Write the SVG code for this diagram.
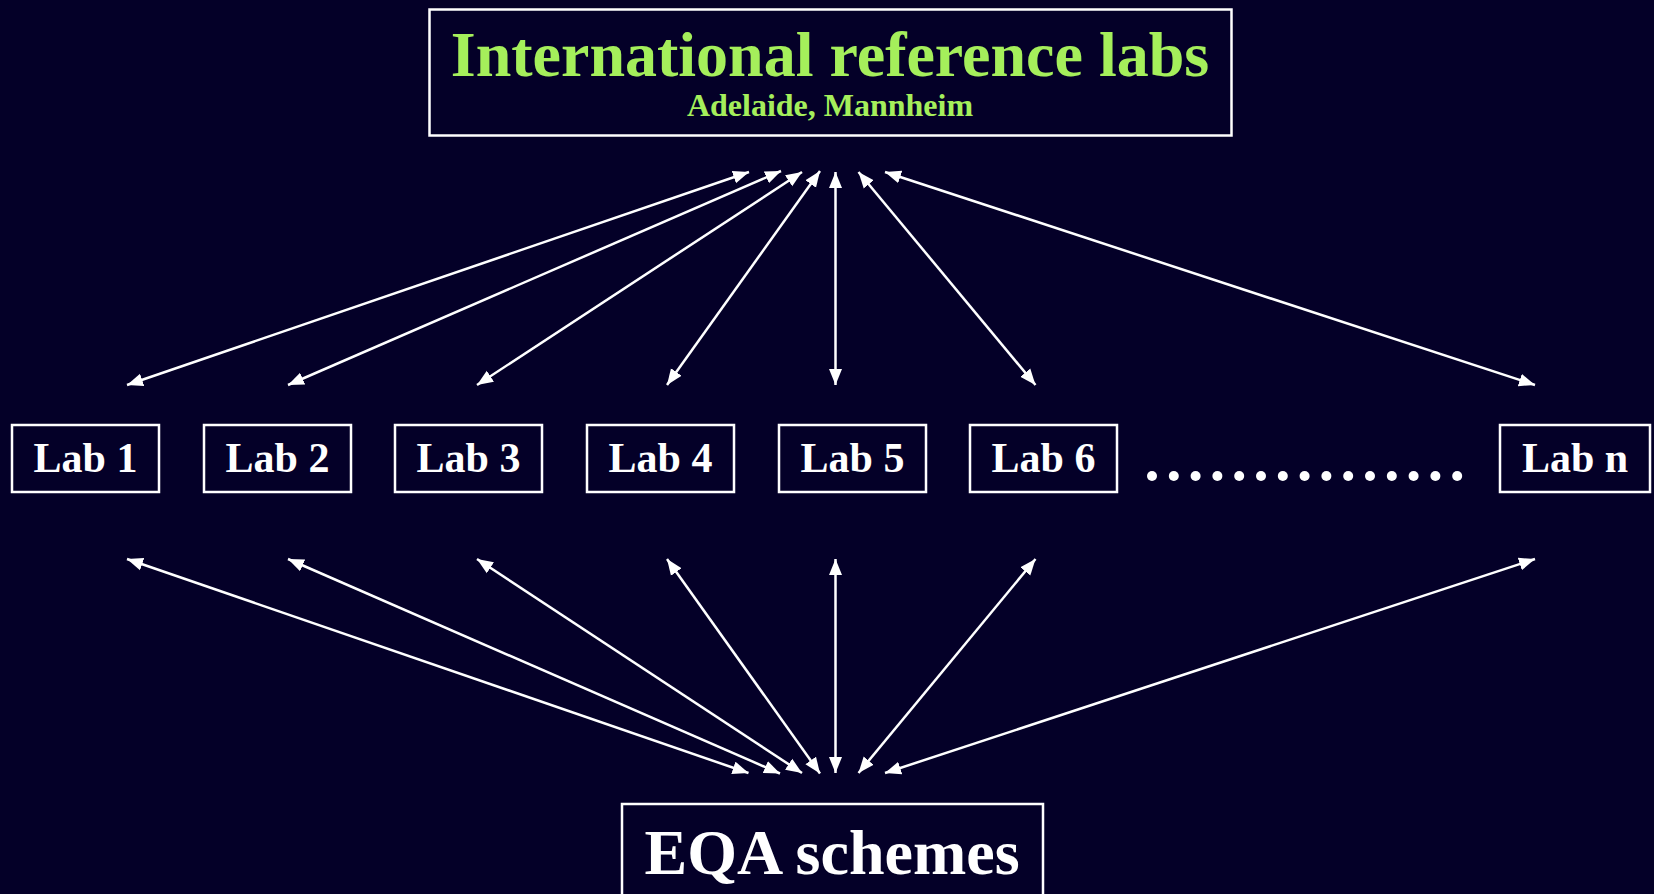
<svg xmlns="http://www.w3.org/2000/svg" width="1654" height="894" viewBox="0 0 1654 894">
<style>
.box{fill:none;stroke:#ffffff;stroke-width:2.5}
.t{font-family:"Liberation Serif","Times New Roman",serif;font-weight:bold;text-anchor:middle}
.lab{fill:#ffffff;font-size:42px}
.con{stroke:#ffffff;stroke-width:2.5;fill:none;marker-start:url(#ah);marker-end:url(#ah)}
</style>
<defs>
<marker id="ah" markerUnits="userSpaceOnUse" markerWidth="18" markerHeight="14" refX="16" refY="6.5" orient="auto-start-reverse" viewBox="0 0 18 13">
<path d="M0,0 L16,6.5 L0,13 z" fill="#ffffff"/>
</marker>
</defs>
<rect width="1654" height="894" fill="#040028"/>
<g id="ref">
<rect class="box" x="429.5" y="9.5" width="802" height="126"/>
<text class="t" x="830" y="76" font-size="64" fill="#a5ef5b">International reference labs</text>
<text class="t" x="830" y="116" font-size="32" fill="#a5ef5b">Adelaide, Mannheim</text>
</g>
<g id="lab1"><rect class="box" x="12" y="425" width="147" height="67"/><text class="t lab" x="85.5" y="472">Lab 1</text></g>
<g id="lab2"><rect class="box" x="204" y="425" width="147" height="67"/><text class="t lab" x="277.5" y="472">Lab 2</text></g>
<g id="lab3"><rect class="box" x="395" y="425" width="147" height="67"/><text class="t lab" x="468.5" y="472">Lab 3</text></g>
<g id="lab4"><rect class="box" x="587" y="425" width="147" height="67"/><text class="t lab" x="660.5" y="472">Lab 4</text></g>
<g id="lab5"><rect class="box" x="779" y="425" width="147" height="67"/><text class="t lab" x="852.5" y="472">Lab 5</text></g>
<g id="lab6"><rect class="box" x="970" y="425" width="147" height="67"/><text class="t lab" x="1043.5" y="472">Lab 6</text></g>
<g id="labn"><rect class="box" x="1500" y="425" width="150" height="67"/><text class="t lab" x="1575" y="472">Lab n</text></g>
<g id="dots" fill="#ffffff">
<circle cx="1152" cy="476" r="5"/><circle cx="1173.8" cy="476" r="5"/><circle cx="1195.6" cy="476" r="5"/><circle cx="1217.4" cy="476" r="5"/><circle cx="1239.2" cy="476" r="5"/><circle cx="1261" cy="476" r="5"/><circle cx="1282.8" cy="476" r="5"/><circle cx="1304.6" cy="476" r="5"/><circle cx="1326.4" cy="476" r="5"/><circle cx="1348.2" cy="476" r="5"/><circle cx="1370" cy="476" r="5"/><circle cx="1391.8" cy="476" r="5"/><circle cx="1413.6" cy="476" r="5"/><circle cx="1435.4" cy="476" r="5"/><circle cx="1457.2" cy="476" r="5"/>
</g>
<g id="eqa">
<rect class="box" x="622" y="804" width="421" height="100"/>
<text class="t" x="832" y="874" font-size="64" fill="#ffffff">EQA schemes</text>
</g>
<g id="connectors">
<line class="con" x1="127" y1="385" x2="749" y2="172"/>
<line class="con" x1="288" y1="385" x2="781" y2="171"/>
<line class="con" x1="477" y1="385" x2="802" y2="172"/>
<line class="con" x1="667" y1="385" x2="820" y2="171"/>
<line class="con" x1="835.5" y1="385" x2="835.5" y2="172"/>
<line class="con" x1="1035.5" y1="385" x2="858.5" y2="172"/>
<line class="con" x1="1535" y1="385" x2="885" y2="172"/>
<line class="con" x1="127" y1="559" x2="748.5" y2="773"/>
<line class="con" x1="288" y1="559" x2="780" y2="773.5"/>
<line class="con" x1="477" y1="559" x2="802" y2="773"/>
<line class="con" x1="667" y1="559" x2="820" y2="773.5"/>
<line class="con" x1="835.5" y1="559" x2="835.5" y2="773"/>
<line class="con" x1="1035.5" y1="559" x2="858.5" y2="773"/>
<line class="con" x1="1535" y1="559" x2="885" y2="773"/>
</g>
</svg>
